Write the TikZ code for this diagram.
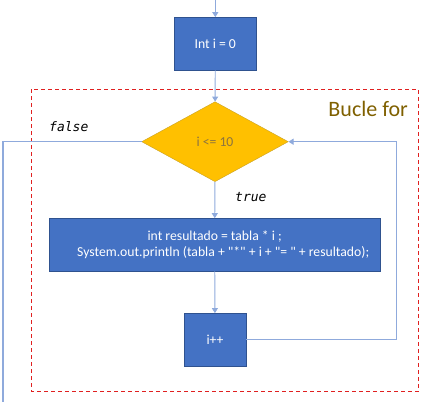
\documentclass[tikz,border=0pt]{standalone}
\usepackage{fontspec}
\setmainfont{Carlito}
\setmonofont{DejaVu Sans Mono}
\usepackage{tikz}
\usetikzlibrary{positioning}
\usetikzlibrary{arrows.meta}
\usetikzlibrary{shapes.geometric}
\definecolor{cajaazul}{HTML}{4472C4}
\definecolor{bordeazul}{HTML}{2F528F}
\definecolor{lineaazul}{HTML}{8FAADC}
\definecolor{oro}{HTML}{FFC000}
\definecolor{bordeoro}{HTML}{C9A227}
\definecolor{textooro}{HTML}{8C7440}
\definecolor{marron}{HTML}{7F6000}
\definecolor{rojo}{HTML}{E02020}
\newcommand{\comilla}{\textquotedbl}

\begin{document}
\begin{tikzpicture}[x=1pt,y=-1pt,
    caja/.style={draw=bordeazul,fill=cajaazul,text=white,inner sep=0pt,
      font=\fontsize{13.7}{15.5}\selectfont},
    flecha/.style={draw=lineaazul,line width=0.9pt,-{Triangle[width=6pt,length=5pt]}},
    linea/.style={draw=lineaazul,line width=1.2pt},
    etiqueta/.style={font=\fontsize{13}{15}\ttfamily\itshape,anchor=base west,inner sep=0pt}]
  \useasboundingbox (0,0) rectangle (446,402);
  % bucle
  \draw[rojo,line width=1.2pt,dash pattern=on 4pt off 3pt] (31.7,89.3) rectangle (418.3,391.7);
  \node[marron,anchor=base east,inner sep=0pt,font=\fontsize{22}{26}\selectfont] (titulo) at (408,116.5) {Bucle for};
  \node[caja,minimum width=82.7pt,minimum height=52.7pt] (init) at (215.3,43.7) {Int i = 0};
  \node[diamond,draw=bordeoro,fill=oro,text=textooro,inner sep=0pt,aspect=1.8,
    minimum width=146.6pt,minimum height=80pt,font=\fontsize{13.7}{15.5}\selectfont] (cond) at (215,141.7) {i <= 10};
  \node[caja,minimum width=330.7pt,minimum height=52.7pt,align=center] (cuerpo) at (214.7,244.7)
    {int resultado = tabla * i ;\\ \hspace*{17pt}System.out.println (tabla + \comilla*\comilla{} + i + \comilla= \comilla{} + resultado);};
  \node[caja,minimum width=61.7pt,minimum height=52.4pt] (incr) at (215,339.5) {i++};
  \coordinate (entrada) at (215.3,0);
  \coordinate (salida) at (3,402);
  \coordinate (vuelta) at (396,339.5);
  \draw[flecha] (entrada) -- (init);
  \draw[flecha] (init) -- (cond);
  \draw[flecha] (cond) -- (cuerpo);
  \draw[flecha] (cuerpo) -- (incr);
  \draw[flecha] (incr) -- (vuelta) |- (cond.east);
  \draw[linea] (cond.west) -- (cond.west -| salida) -- (salida);
  \node[etiqueta] (falso) at (49,131.5) {false};
  \node[etiqueta] (cierto) at (235,201.5) {true};
\end{tikzpicture}
\end{document}
